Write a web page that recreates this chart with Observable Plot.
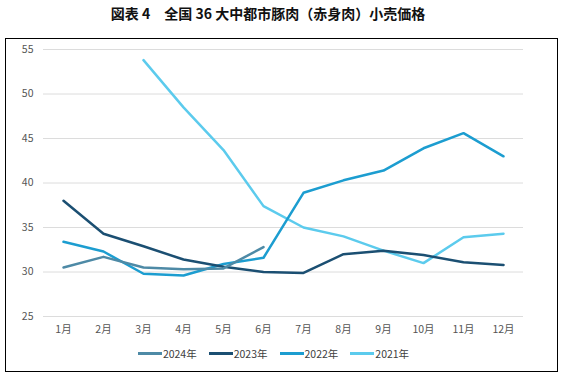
<!DOCTYPE html>
<html><head><meta charset="utf-8">
<script src="https://cdn.jsdelivr.net/npm/d3@7"></script>
<script src="https://cdn.jsdelivr.net/npm/@observablehq/plot@0.6"></script>
<style>
body{margin:0;background:#fff;font-family:"Noto Sans CJK SC","Noto Sans",sans-serif;}
#title{position:absolute;left:0;top:3px;width:536px;text-align:center;font-size:14px;font-weight:bold;color:#111;white-space:pre;}
#box{position:absolute;left:5px;top:38px;width:551px;height:332px;border:1.5px solid #000;background:#fff;}
#chart svg{display:block;}
#legend{display:flex;justify-content:center;align-items:center;gap:12px;font-size:10.5px;color:#404040;margin-left:-16px;margin-top:6px;}
#legend .item{display:flex;align-items:center;}
#legend .sw{display:inline-block;width:24px;height:2.5px;margin-right:1px;}
</style>
</head><body>
<div id="title">図表 4　全国 36 大中都市豚肉（赤身肉）小売価格</div>
<div id="box"><div id="chart"></div><div id="legend"></div></div>
<script>
const months = ["1月","2月","3月","4月","5月","6月","7月","8月","9月","10月","11月","12月"];
const seriesNames = ["2024年","2023年","2022年","2021年"];
const seriesColors = ["#4e8aa6","#1b4f72","#1c9dd0","#5ccbed"];
const yTicks = [25,30,35,40,45,50,55];
const v2024 = [30.5,31.7,30.5,30.3,30.4,32.8,null,null,null,null,null,null];
const v2023 = [38.0,34.3,32.9,31.4,30.6,30.0,29.9,32.0,32.4,31.9,31.1,30.8];
const v2022 = [33.4,32.3,29.8,29.6,30.9,31.6,38.9,40.3,41.4,43.9,45.6,43.0];
const v2021 = [null,null,53.8,48.5,43.7,37.4,35.0,34.0,32.4,31.0,33.9,34.3];
const seriesValues = [v2024,v2023,v2022,v2021];

const data = [];
for (let i = seriesNames.length - 1; i >= 0; i--) {
  seriesValues[i].forEach((v, j) => { if (v != null) data.push({month: months[j], series: seriesNames[i], value: v}); });
}

const chart = Plot.plot({
  width: 551, height: 301,
  marginLeft: 37, marginRight: 34, marginTop: 10, marginBottom: 24,
  style: {fontFamily: '"Noto Sans CJK SC", sans-serif', fontSize: "10.5px", color: "#555", background: "#fff"},
  x: {type: "point", domain: months, padding: 0.5, label: null},
  y: {domain: [25, 55], label: null},
  color: {domain: seriesNames, range: seriesColors},
  marks: [
    Plot.gridY(yTicks, {stroke: "#dcdcdc", strokeOpacity: 1}),
    Plot.axisY(yTicks, {tickSize: 0, tickPadding: 10, label: null}),
    Plot.axisX({tickSize: 0, tickPadding: 9, label: null}),
    Plot.lineY(data, {x: "month", y: "value", z: "series", stroke: "series", strokeWidth: 2.5})
  ]
});
document.getElementById("chart").appendChild(chart);

const legend = document.getElementById("legend");
seriesNames.forEach((s, i) => {
  const item = document.createElement("span");
  item.className = "item";
  item.innerHTML = `<span class="sw" style="background:${seriesColors[i]}"></span>${s}`;
  legend.appendChild(item);
});
</script>
</body></html>
